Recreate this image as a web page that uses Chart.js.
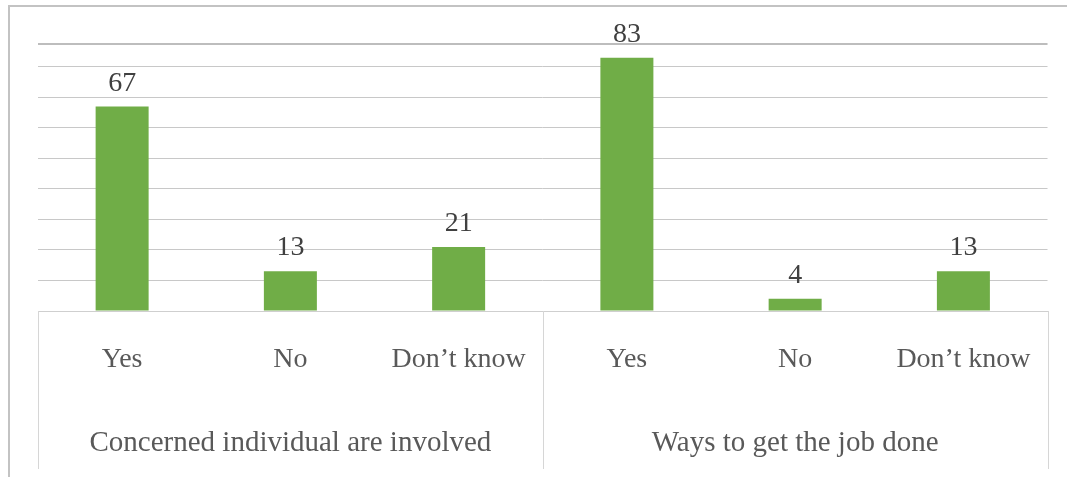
<!DOCTYPE html>
<html>
<head>
<meta charset="utf-8">
<script src="https://cdn.jsdelivr.net/npm/chart.js@4/dist/chart.umd.min.js"></script>
<style>
  html, body { margin: 0; padding: 0; background: #ffffff; }
  #wrap { position: relative; width: 1067px; height: 477px; overflow: hidden; }
  #frame { position: absolute; left: 8px; top: 5px; width: 1100px; height: 500px;
           border-left: 2px solid #c3c3c3; border-top: 2px solid #c3c3c3; box-sizing: border-box; }
  canvas { position: absolute; left: 0; top: 0; }
</style>
</head>
<body>
<div id="wrap">
  <div id="frame"></div>
  <canvas id="c" width="1067" height="477"></canvas>
</div>
<script>
const categories = ['Yes', 'No', 'Don’t know', 'Yes', 'No', 'Don’t know'];
const groups = ['Concerned individual are involved', 'Ways to get the job done'];
const groupSize = 3;
const values = [67, 13, 21, 83, 4, 13];
const yTicks = [0, 10, 20, 30, 40, 50, 60, 70, 80, 87.5];

const FONT = "'Liberation Serif', 'Times New Roman', serif";

const valueLabels = {
  id: 'valueLabels',
  afterDatasetsDraw(chart) {
    const ctx = chart.ctx;
    const meta = chart.getDatasetMeta(0);
    ctx.save();
    ctx.font = '28px ' + FONT;
    ctx.fillStyle = '#404040';
    ctx.textAlign = 'center';
    ctx.textBaseline = 'alphabetic';
    meta.data.forEach((el, i) => {
      ctx.fillText(String(chart.data.datasets[0].data[i]), el.x, el.y - 16);
    });
    ctx.restore();
  }
};

// group separators of the two-level category axis, from the x scale's own positions
const groupSeparators = {
  id: 'groupSeparators',
  afterDraw(chart) {
    const xs = chart.scales.x;
    const ctx = chart.ctx;
    const n = xs.ticks.length;
    const half = (xs.getPixelForTick(1) - xs.getPixelForTick(0)) / 2;
    const positions = [];
    for (let i = 0; i <= n; i += groupSize) {
      positions.push(i < n ? xs.getPixelForTick(i) - half : xs.getPixelForTick(n - 1) + half);
    }
    ctx.save();
    ctx.strokeStyle = '#d6d6d6';
    ctx.lineWidth = 1;
    positions.forEach(p => {
      const px = Math.round(p) + 0.5;
      ctx.beginPath();
      ctx.moveTo(px, xs.top);
      ctx.lineTo(px, xs.top + 158);
      ctx.stroke();
    });
    ctx.restore();
  }
};

new Chart(document.getElementById('c'), {
  type: 'bar',
  data: {
    labels: categories,
    datasets: [{
      data: values,
      backgroundColor: '#70ad47',
      borderWidth: 0,
      barPercentage: 0.315,
      categoryPercentage: 1,
      xAxisID: 'x'
    }]
  },
  options: {
    responsive: false,
    animation: false,
    events: [],
    layout: { padding: { left: 38, right: 19, top: 44, bottom: 0 } },
    plugins: { legend: { display: false }, tooltip: { enabled: false }, title: { display: false } },
    scales: {
      y: {
        min: 0,
        max: 87.5,
        afterBuildTicks: s => { s.ticks = yTicks.map(v => ({ value: v })); },
        ticks: { display: false },
        border: { display: false },
        grid: {
          drawTicks: false,
          color: ctx => (ctx.tick && ctx.tick.value === 87.5) ? '#bdbdbd' : '#c8c8c8',
          lineWidth: ctx => (ctx.tick && ctx.tick.value === 87.5) ? 2 : 1
        }
      },
      x: {
        type: 'category',
        position: 'bottom',
        weight: 0,
        offset: true,
        border: { display: true, color: '#cfcfcf', width: 1 },
        grid: { display: false, drawTicks: false },
        ticks: {
          autoSkip: false,
          maxRotation: 0,
          minRotation: 0,
          padding: 35,
          color: '#595959',
          font: { family: FONT, size: 28, lineHeight: 1 }
        }
      },
      x2: {
        type: 'category',
        labels: groups,
        position: 'bottom',
        weight: 1,
        offset: true,
        border: { display: false },
        grid: { display: false, drawTicks: false },
        ticks: {
          autoSkip: false,
          maxRotation: 0,
          minRotation: 0,
          padding: 19.5,
          color: '#595959',
          font: { family: FONT, size: 29, lineHeight: 1 }
        }
      }
    }
  },
  plugins: [valueLabels, groupSeparators]
});
</script>
</body>
</html>
